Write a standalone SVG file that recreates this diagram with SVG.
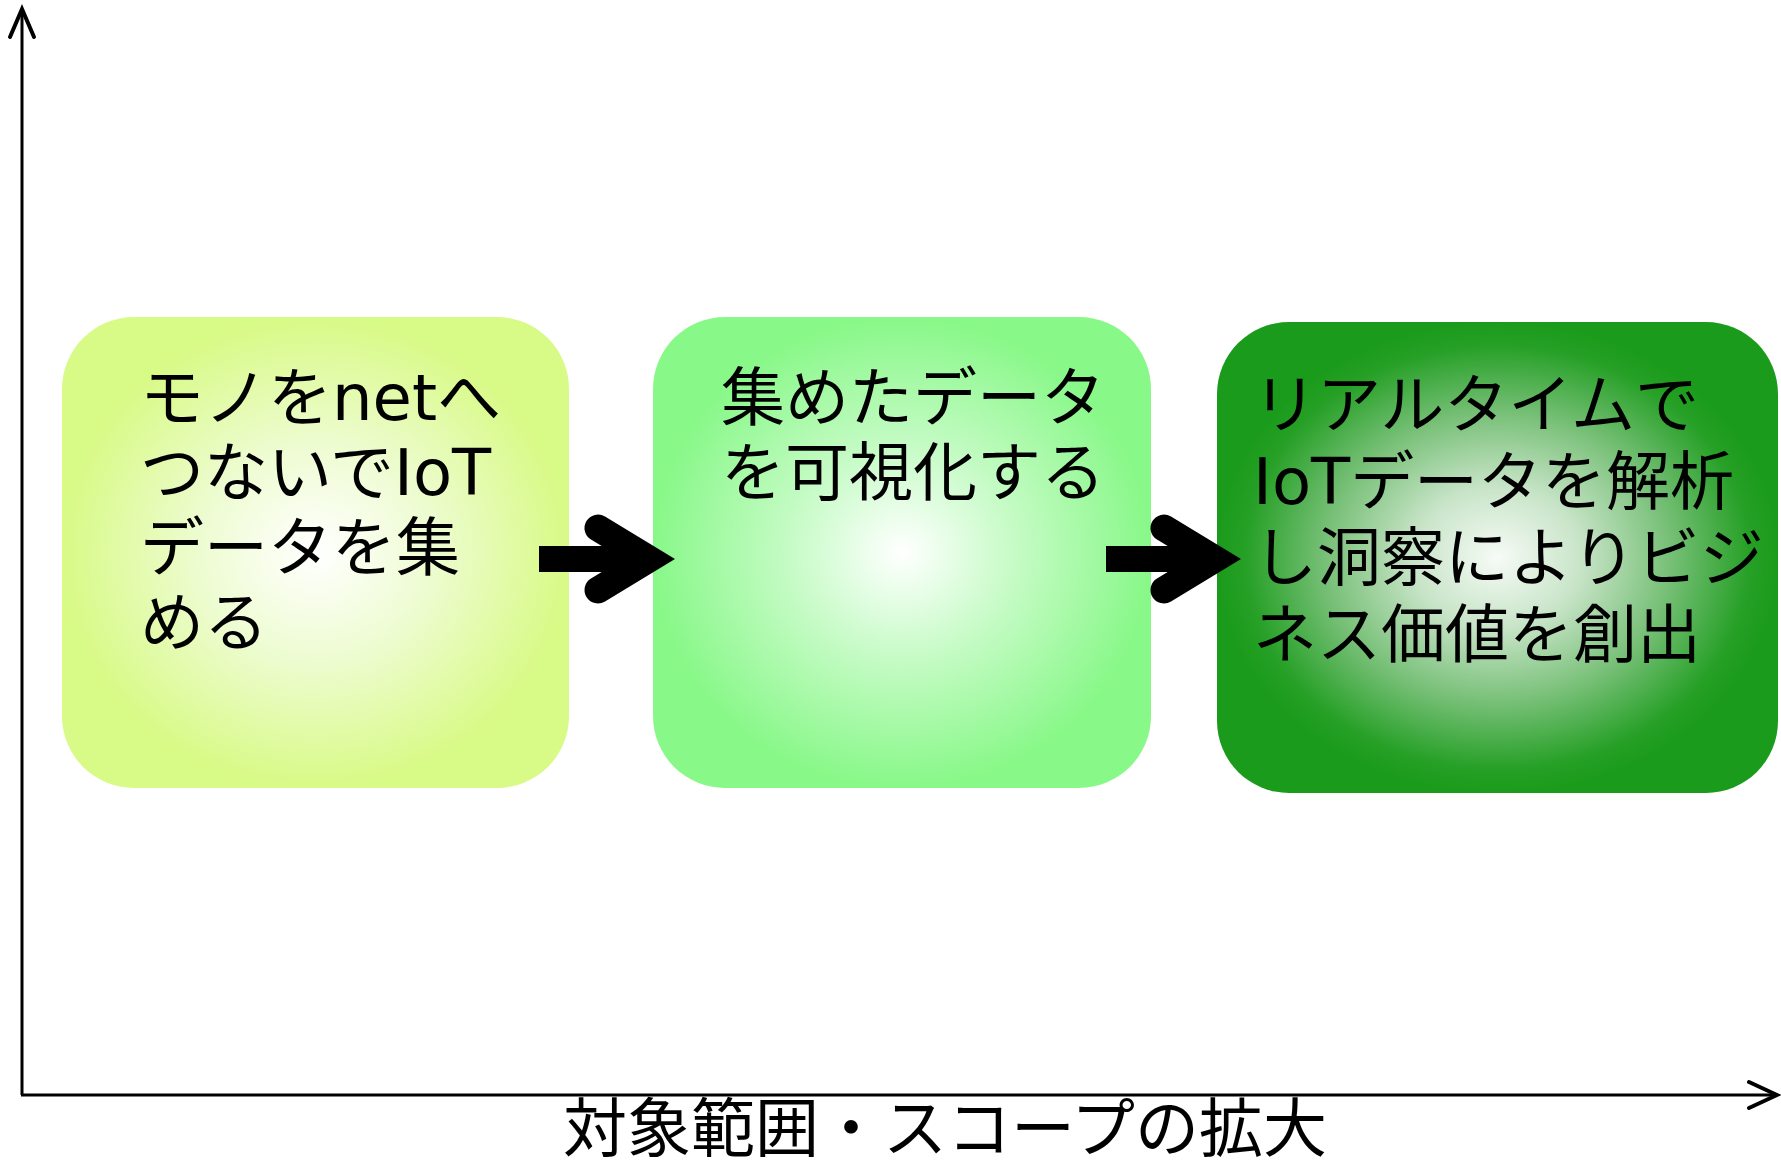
<svg xmlns="http://www.w3.org/2000/svg" width="1781" height="1163" viewBox="0 0 1781 1163">
  <style>
    .lbl { font-family: "DejaVu Sans", "Noto Sans CJK JP", sans-serif; font-size: 64px; fill: #000000; }
    .axis { stroke: #000000; stroke-width: 3; fill: none; }
    .axhead { stroke: #000000; stroke-width: 4; fill: none; stroke-linecap: round; stroke-linejoin: miter; }
    .flow { fill: #000000; }
    .flowhead { stroke: #000000; stroke-width: 27; fill: none; stroke-linecap: round; stroke-linejoin: miter; stroke-miterlimit: 10; }
  </style>
  <defs>
    <radialGradient id="g1" cx="0.5" cy="0.5" r="0.5">
      <stop offset="0" stop-color="#ffffff"/>
      <stop offset="0.45" stop-color="#eefcd2"/>
      <stop offset="1" stop-color="#d8fa86"/>
    </radialGradient>
    <radialGradient id="g2" cx="0.5" cy="0.5" r="0.5">
      <stop offset="0" stop-color="#ffffff"/>
      <stop offset="0.45" stop-color="#c6fbc6"/>
      <stop offset="1" stop-color="#88f888"/>
    </radialGradient>
    <radialGradient id="g3" cx="0.5" cy="0.5" r="0.5">
      <stop offset="0" stop-color="#f6fbf6"/>
      <stop offset="0.3" stop-color="#c8e4c8"/>
      <stop offset="0.62" stop-color="#76bf76"/>
      <stop offset="0.9" stop-color="#26a026"/>
      <stop offset="1" stop-color="#1b9b1b"/>
    </radialGradient>
  </defs>

  <g id="axes">
    <line class="axis" x1="22" y1="9" x2="22" y2="1095"/>
    <polyline class="axhead" points="10,37 22,9 34,37"/>
    <line class="axis" x1="21" y1="1095" x2="1776" y2="1095"/>
    <polyline class="axhead" points="1749,1082 1777,1095 1749,1108"/>
    <text class="lbl" x="945" y="1151" text-anchor="middle">対象範囲・スコープの拡大</text>
  </g>

  <g id="node1">
    <rect x="62" y="317" width="507" height="471" rx="72" ry="72" fill="url(#g1)"/>
    <text class="lbl" x="140" y="420">モノをnetへ</text>
    <text class="lbl" x="140" y="495">つないでIoT</text>
    <text class="lbl" x="140" y="570">データを集</text>
    <text class="lbl" x="140" y="645">める</text>
  </g>

  <g id="node2">
    <rect x="653" y="317" width="498" height="471" rx="72" ry="72" fill="url(#g2)"/>
    <text class="lbl" x="721" y="420">集めたデータ</text>
    <text class="lbl" x="721" y="495">を可視化する</text>
  </g>

  <g id="node3">
    <rect x="1217" y="322" width="561" height="471" rx="72" ry="72" fill="url(#g3)"/>
    <text class="lbl" x="1253" y="427">リアルタイムで</text>
    <text class="lbl" x="1253" y="504">IoTデータを解析</text>
    <text class="lbl" x="1253" y="580">し洞察によりビジ</text>
    <text class="lbl" x="1253" y="657">ネス価値を創出</text>
  </g>

  <g id="connectors">
    <rect class="flow" x="539" y="546" width="100" height="26"/>
    <polyline class="flowhead" points="598,528 649,559 598,590"/>
    <rect class="flow" x="1106" y="546" width="100" height="26"/>
    <polyline class="flowhead" points="1164,528 1215,559 1164,590"/>
  </g>
</svg>
